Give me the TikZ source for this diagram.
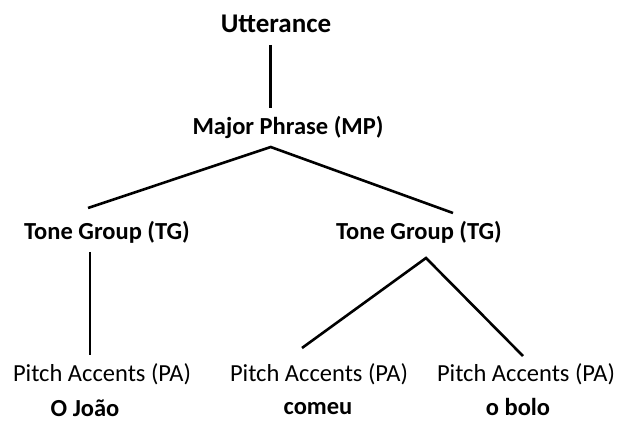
\documentclass[tikz,border=0pt]{standalone}
\usepackage{fontspec}
\setmainfont{Carlito}
\usetikzlibrary{calc}

\tikzset{
  lbl/.style={inner sep=0pt, font=\fontsize{24.5}{28}\selectfont},
  hd/.style={lbl, font=\fontsize{24.5}{28}\selectfont\bfseries},
  branch/.style={line width=2.6pt}
}

\begin{document}
\begin{tikzpicture}[x=1pt,y=-1pt]
        \useasboundingbox (0,0) rectangle (619,422);
        \node[hd, font=\fontsize{27}{30}\selectfont\bfseries] (utt) at (276,24) {Utterance};
        \node[hd] (mp) at (288,127) {Major Phrase (MP)};
        \node[hd] (tgl) at (107,232) {Tone Group (TG)};
        \node[hd] (tgr) at (419,232) {Tone Group (TG)};

        \node[lbl] (pa1) at (102,374) {Pitch Accents (PA)};
        \node[lbl] (pa2) at (319,374) {Pitch Accents (PA)};
        \node[lbl] (pa3) at (526,374) {Pitch Accents (PA)};

        \node[hd] (w1) at (85,408) {O João};
        \node[hd] (w2) at (318,409) {comeu};
        \node[hd] (w3) at (518,407) {o bolo};

        \draw[branch] ($(utt)+(-5.3,21)$) -- ($(mp)+(-17.3,-19)$);
        \draw[branch] ($(tgl)+(-19,-24)$) -- ($(mp)+(-17.3,20)$) -- ($(tgr)+(34,-19)$); % MP splits
        \draw[branch] ($(tgl)+(-17,20)$) -- ($(pa1)+(-12,-19)$);
        \draw[branch] ($(pa2)+(-17,-26)$) -- ($(tgr)+(7,26)$) -- ($(pa3)+(-3,-18)$); % TG splits
\end{tikzpicture}
\end{document}
